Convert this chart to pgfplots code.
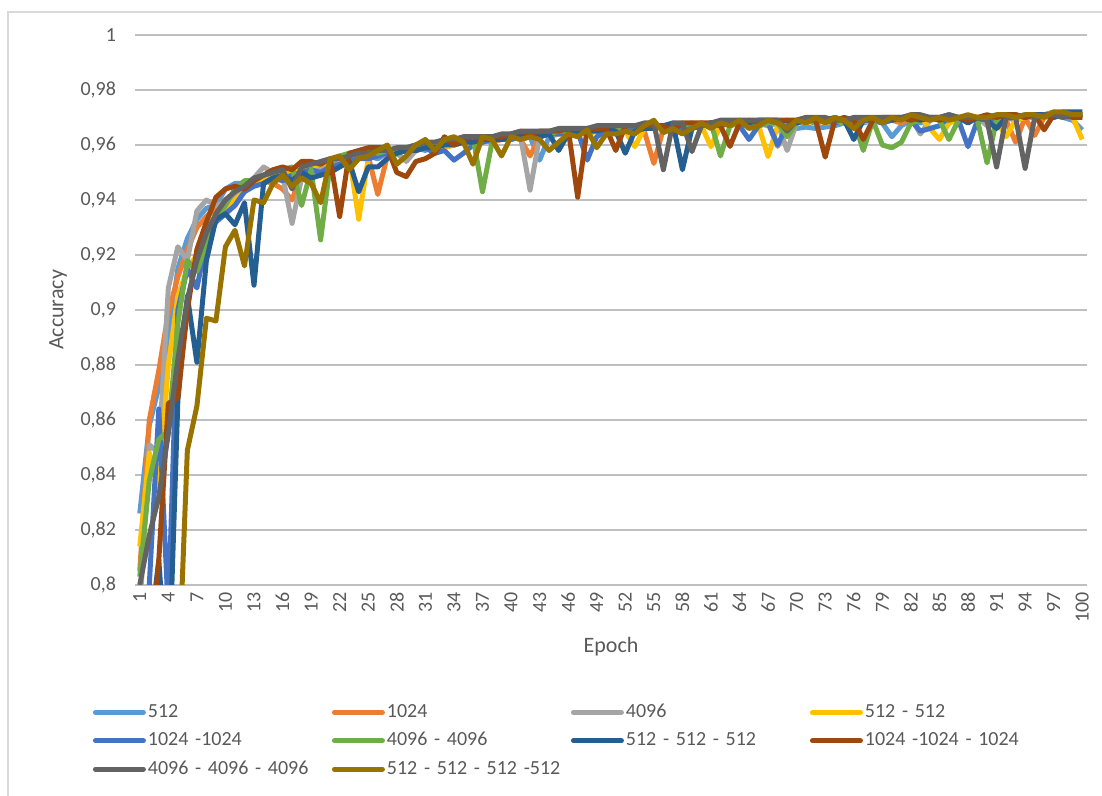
\documentclass[border=0pt]{standalone}
\usepackage{pgfplots}
\pgfplotsset{compat=1.18}
\usepackage{fontspec}
\setmainfont{Carlito}
\definecolor{cA}{HTML}{5B9BD5}
\definecolor{cB}{HTML}{ED7D31}
\definecolor{cC}{HTML}{A5A5A5}
\definecolor{cD}{HTML}{FFC000}
\definecolor{cE}{HTML}{4472C4}
\definecolor{cF}{HTML}{70AD47}
\definecolor{cG}{HTML}{255E91}
\definecolor{cH}{HTML}{9E480E}
\definecolor{cI}{HTML}{636363}
\definecolor{cJ}{HTML}{997300}
\definecolor{txt}{HTML}{595959}
\definecolor{grid}{HTML}{D9D9D9}
\begin{document}
\begin{tikzpicture}
\useasboundingbox (0,0) rectangle (551pt,398pt);
\draw[grid, line width=0.75pt] (4pt,0pt) -- (4pt,392pt) -- (551pt,392pt);
\begin{axis}[
  at={(67.5pt,105.5pt)}, anchor=south west,
  scale only axis, width=476pt, height=275pt,
  xmin=0.5, xmax=100.5, ymin=0.8, ymax=1,
  xtick={1,4,...,100},
  ytick={0.8,0.82,...,1.001},
  /pgf/number format/assume math mode=true,
  yticklabel style={/pgf/number format/fixed, /pgf/number format/precision=2, /pgf/number format/use comma, xshift=-6pt},
  xmajorgrids=false, ymajorgrids=true, grid style={grid, line width=0.75pt},
  axis line style={draw=none}, tick style={draw=none},
  tick label style={font=\fontsize{10}{12}\selectfont, text=txt},
  xticklabel style={rotate=90, anchor=east},
  xlabel={Epoch}, ylabel={Accuracy},
  label style={font=\fontsize{11}{13}\selectfont, text=txt},
  xlabel style={at={(axis description cs:0.5,-0.1127)}, anchor=center},
  ylabel style={at={(axis description cs:-0.0809,0.5)}, anchor=center},
  every axis plot/.append style={line width=2.5pt, line join=round, mark=none},
  legend columns=4,
  legend cell align=left,
  legend image code/.code={\draw[#1, line cap=round] (0pt,0pt) -- (24pt,0pt);},
  legend style={at={(axis description cs:-0.0446,-0.2051)}, anchor=north west,
    draw=none, fill=none, inner sep=0pt, font=\fontsize{10}{12}\selectfont, text=txt,
    nodes={inner xsep=1pt, inner ysep=2.6pt, text height=7pt, text depth=2pt},
    /tikz/every even column/.append style={text width=91pt}},
]
\addplot[cA] table[x expr=\coordindex+1, y index=0, header=false, row sep=\\] {
0.826\\0.858\\0.872\\0.889\\0.915\\0.926\\0.933\\0.937\\0.938\\0.944\\
0.946\\0.946\\0.947\\0.948\\0.949\\0.950\\0.950\\0.951\\0.952\\0.951\\
0.953\\0.954\\0.955\\0.955\\0.956\\0.955\\0.957\\0.958\\0.958\\0.959\\
0.958\\0.960\\0.960\\0.961\\0.961\\0.962\\0.961\\0.962\\0.963\\0.963\\
0.962\\0.963\\0.9545\\0.963\\0.964\\0.965\\0.964\\0.965\\0.966\\0.965\\
0.966\\0.966\\0.965\\0.966\\0.967\\0.966\\0.967\\0.966\\0.967\\0.968\\
0.967\\0.968\\0.967\\0.968\\0.967\\0.968\\0.967\\0.968\\0.967\\0.966\\
0.9665\\0.966\\0.9665\\0.967\\0.968\\0.969\\0.968\\0.969\\0.968\\0.963\\
0.967\\0.969\\0.968\\0.969\\0.970\\0.969\\0.970\\0.969\\0.970\\0.969\\
0.967\\0.970\\0.969\\0.970\\0.971\\0.970\\0.971\\0.970\\0.969\\0.9655\\};
\addlegendentry{512}
\addplot[cB] table[x expr=\coordindex+1, y index=0, header=false, row sep=\\] {
0.805\\0.860\\0.878\\0.899\\0.912\\0.922\\0.930\\0.934\\0.937\\0.940\\
0.943\\0.945\\0.946\\0.947\\0.946\\0.944\\0.940\\0.950\\0.951\\0.952\\
0.953\\0.954\\0.955\\0.955\\0.956\\0.942\\0.956\\0.957\\0.958\\0.958\\
0.959\\0.958\\0.960\\0.960\\0.961\\0.961\\0.962\\0.961\\0.962\\0.963\\
0.962\\0.956\\0.963\\0.964\\0.964\\0.965\\0.964\\0.965\\0.965\\0.966\\
0.965\\0.966\\0.966\\0.965\\0.9533\\0.966\\0.967\\0.966\\0.967\\0.967\\
0.968\\0.967\\0.968\\0.967\\0.968\\0.967\\0.968\\0.9595\\0.967\\0.968\\
0.969\\0.968\\0.969\\0.968\\0.969\\0.968\\0.969\\0.969\\0.970\\0.969\\
0.968\\0.970\\0.969\\0.970\\0.969\\0.970\\0.969\\0.970\\0.970\\0.969\\
0.970\\0.969\\0.961\\0.970\\0.9635\\0.970\\0.971\\0.970\\0.971\\0.970\\};
\addlegendentry{1024}
\addplot[cC] table[x expr=\coordindex+1, y index=0, header=false, row sep=\\] {
0.790\\0.851\\0.848\\0.908\\0.923\\0.918\\0.936\\0.940\\0.938\\0.939\\
0.942\\0.945\\0.948\\0.952\\0.950\\0.949\\0.9315\\0.948\\0.950\\0.951\\
0.953\\0.954\\0.955\\0.955\\0.956\\0.957\\0.956\\0.957\\0.954\\0.958\\
0.959\\0.959\\0.960\\0.960\\0.961\\0.961\\0.962\\0.962\\0.963\\0.962\\
0.963\\0.9436\\0.963\\0.964\\0.964\\0.964\\0.965\\0.965\\0.965\\0.966\\
0.966\\0.966\\0.966\\0.967\\0.966\\0.967\\0.967\\0.966\\0.967\\0.968\\
0.967\\0.968\\0.968\\0.967\\0.968\\0.968\\0.967\\0.968\\0.958\\0.968\\
0.969\\0.968\\0.969\\0.969\\0.968\\0.969\\0.969\\0.970\\0.969\\0.970\\
0.969\\0.970\\0.964\\0.969\\0.970\\0.970\\0.969\\0.970\\0.970\\0.967\\
0.970\\0.970\\0.971\\0.970\\0.970\\0.971\\0.971\\0.970\\0.971\\0.971\\};
\addlegendentry{4096}
\addplot[cD] table[x expr=\coordindex+1, y index=0, header=false, row sep=\\] {
0.814\\0.848\\0.835\\0.880\\0.905\\0.915\\0.920\\0.928\\0.933\\0.936\\
0.940\\0.943\\0.946\\0.948\\0.949\\0.950\\0.951\\0.950\\0.952\\0.953\\
0.954\\0.955\\0.956\\0.933\\0.955\\0.957\\0.957\\0.958\\0.958\\0.959\\
0.959\\0.960\\0.959\\0.960\\0.961\\0.961\\0.962\\0.962\\0.962\\0.963\\
0.963\\0.963\\0.964\\0.964\\0.964\\0.965\\0.965\\0.964\\0.965\\0.966\\
0.966\\0.965\\0.9594\\0.966\\0.967\\0.966\\0.967\\0.967\\0.966\\0.967\\
0.9594\\0.967\\0.968\\0.967\\0.968\\0.967\\0.9558\\0.967\\0.968\\0.969\\
0.968\\0.969\\0.968\\0.969\\0.968\\0.969\\0.969\\0.968\\0.969\\0.969\\
0.970\\0.969\\0.970\\0.966\\0.962\\0.968\\0.969\\0.970\\0.969\\0.970\\
0.969\\0.963\\0.969\\0.970\\0.971\\0.970\\0.971\\0.971\\0.970\\0.962\\};
\addlegendentry{512 - 512}
\addplot[cE] table[x expr=\coordindex+1, y index=0, header=false, row sep=\\] {
0.780\\0.800\\0.864\\0.790\\0.900\\0.915\\0.908\\0.925\\0.932\\0.935\\
0.938\\0.943\\0.945\\0.946\\0.948\\0.947\\0.949\\0.950\\0.951\\0.950\\
0.952\\0.953\\0.954\\0.955\\0.955\\0.956\\0.957\\0.957\\0.958\\0.958\\
0.959\\0.957\\0.958\\0.9545\\0.957\\0.960\\0.961\\0.962\\0.962\\0.962\\
0.963\\0.963\\0.963\\0.964\\0.964\\0.964\\0.965\\0.9545\\0.963\\0.965\\
0.966\\0.965\\0.966\\0.966\\0.967\\0.966\\0.967\\0.966\\0.967\\0.967\\
0.968\\0.967\\0.968\\0.967\\0.962\\0.967\\0.968\\0.960\\0.967\\0.968\\
0.969\\0.968\\0.969\\0.968\\0.969\\0.968\\0.969\\0.969\\0.968\\0.969\\
0.970\\0.969\\0.965\\0.966\\0.967\\0.970\\0.969\\0.9594\\0.969\\0.970\\
0.969\\0.970\\0.970\\0.971\\0.970\\0.971\\0.970\\0.971\\0.971\\0.970\\};
\addlegendentry{1024 -1024}
\addplot[cF] table[x expr=\coordindex+1, y index=0, header=false, row sep=\\] {
0.803\\0.838\\0.853\\0.856\\0.895\\0.918\\0.914\\0.924\\0.933\\0.938\\
0.944\\0.947\\0.947\\0.949\\0.950\\0.951\\0.952\\0.938\\0.951\\0.9255\\
0.953\\0.956\\0.957\\0.957\\0.958\\0.957\\0.958\\0.958\\0.959\\0.960\\
0.960\\0.961\\0.961\\0.962\\0.962\\0.963\\0.943\\0.961\\0.963\\0.963\\
0.964\\0.964\\0.964\\0.964\\0.965\\0.965\\0.965\\0.966\\0.966\\0.966\\
0.966\\0.967\\0.967\\0.966\\0.967\\0.967\\0.967\\0.967\\0.968\\0.967\\
0.968\\0.956\\0.967\\0.968\\0.968\\0.967\\0.968\\0.968\\0.963\\0.968\\
0.969\\0.968\\0.969\\0.969\\0.968\\0.969\\0.958\\0.969\\0.960\\0.959\\
0.961\\0.968\\0.969\\0.970\\0.969\\0.962\\0.969\\0.970\\0.969\\0.9535\\
0.969\\0.970\\0.970\\0.971\\0.970\\0.971\\0.972\\0.971\\0.971\\0.970\\};
\addlegendentry{4096 - 4096}
\addplot[cG] table[x expr=\coordindex+1, y index=0, header=false, row sep=\\] {
0.770\\0.780\\0.809\\0.760\\0.867\\0.905\\0.881\\0.918\\0.933\\0.935\\
0.931\\0.939\\0.909\\0.946\\0.948\\0.949\\0.947\\0.950\\0.948\\0.949\\
0.950\\0.952\\0.954\\0.943\\0.952\\0.952\\0.955\\0.957\\0.958\\0.958\\
0.959\\0.959\\0.960\\0.960\\0.961\\0.961\\0.962\\0.962\\0.962\\0.963\\
0.963\\0.964\\0.963\\0.964\\0.958\\0.964\\0.965\\0.965\\0.965\\0.966\\
0.965\\0.957\\0.965\\0.966\\0.966\\0.967\\0.968\\0.951\\0.966\\0.967\\
0.968\\0.968\\0.968\\0.969\\0.968\\0.969\\0.969\\0.968\\0.969\\0.968\\
0.969\\0.969\\0.969\\0.970\\0.969\\0.962\\0.969\\0.969\\0.970\\0.969\\
0.970\\0.970\\0.969\\0.970\\0.970\\0.971\\0.970\\0.968\\0.970\\0.969\\
0.966\\0.970\\0.971\\0.970\\0.971\\0.971\\0.970\\0.972\\0.972\\0.972\\};
\addlegendentry{512 - 512 - 512}
\addplot[cH] table[x expr=\coordindex+1, y index=0, header=false, row sep=\\] {
0.760\\0.770\\0.809\\0.866\\0.868\\0.900\\0.922\\0.932\\0.941\\0.944\\
0.945\\0.944\\0.947\\0.949\\0.951\\0.952\\0.951\\0.954\\0.954\\0.953\\
0.955\\0.934\\0.957\\0.958\\0.959\\0.959\\0.959\\0.950\\0.9485\\0.954\\
0.955\\0.957\\0.963\\0.960\\0.962\\0.963\\0.962\\0.963\\0.963\\0.964\\
0.965\\0.964\\0.965\\0.965\\0.965\\0.966\\0.941\\0.966\\0.966\\0.966\\
0.958\\0.967\\0.967\\0.967\\0.967\\0.967\\0.965\\0.968\\0.968\\0.968\\
0.968\\0.967\\0.9595\\0.968\\0.969\\0.968\\0.969\\0.969\\0.969\\0.969\\
0.970\\0.969\\0.9556\\0.969\\0.970\\0.969\\0.962\\0.969\\0.970\\0.970\\
0.970\\0.969\\0.970\\0.970\\0.969\\0.970\\0.970\\0.969\\0.970\\0.971\\
0.970\\0.971\\0.971\\0.970\\0.971\\0.9655\\0.971\\0.971\\0.970\\0.970\\};
\addlegendentry{1024 -1024 - 1024}
\addplot[cI] table[x expr=\coordindex+1, y index=0, header=false, row sep=\\] {
0.800\\0.818\\0.832\\0.855\\0.882\\0.904\\0.918\\0.928\\0.935\\0.940\\
0.943\\0.945\\0.948\\0.949\\0.950\\0.951\\0.944\\0.952\\0.953\\0.954\\
0.955\\0.955\\0.956\\0.957\\0.957\\0.958\\0.958\\0.959\\0.959\\0.960\\
0.961\\0.961\\0.962\\0.962\\0.963\\0.963\\0.963\\0.963\\0.964\\0.964\\
0.965\\0.965\\0.965\\0.965\\0.966\\0.966\\0.966\\0.966\\0.967\\0.967\\
0.967\\0.967\\0.967\\0.968\\0.968\\0.951\\0.968\\0.968\\0.9576\\0.967\\
0.968\\0.969\\0.969\\0.969\\0.969\\0.969\\0.969\\0.969\\0.965\\0.969\\
0.970\\0.970\\0.970\\0.969\\0.969\\0.970\\0.970\\0.970\\0.970\\0.970\\
0.970\\0.971\\0.971\\0.970\\0.970\\0.971\\0.970\\0.970\\0.970\\0.969\\
0.952\\0.970\\0.970\\0.9515\\0.970\\0.971\\0.971\\0.970\\0.971\\0.971\\};
\addlegendentry{4096 - 4096 - 4096}
\addplot[cJ] table[x expr=\coordindex+1, y index=0, header=false, row sep=\\] {
0.700\\0.710\\0.720\\0.740\\0.760\\0.849\\0.865\\0.897\\0.896\\0.923\\
0.929\\0.916\\0.940\\0.939\\0.946\\0.949\\0.945\\0.948\\0.946\\0.939\\
0.955\\0.956\\0.951\\0.955\\0.956\\0.958\\0.960\\0.953\\0.956\\0.960\\
0.962\\0.958\\0.962\\0.963\\0.961\\0.953\\0.963\\0.962\\0.956\\0.963\\
0.962\\0.963\\0.962\\0.958\\0.961\\0.964\\0.963\\0.9655\\0.959\\0.964\\
0.964\\0.965\\0.964\\0.967\\0.969\\0.9645\\0.966\\0.964\\0.966\\0.968\\
0.966\\0.968\\0.967\\0.969\\0.966\\0.967\\0.969\\0.968\\0.966\\0.969\\
0.968\\0.970\\0.968\\0.970\\0.969\\0.966\\0.969\\0.970\\0.968\\0.970\\
0.969\\0.971\\0.970\\0.969\\0.970\\0.969\\0.970\\0.971\\0.970\\0.970\\
0.971\\0.971\\0.970\\0.971\\0.971\\0.970\\0.972\\0.972\\0.971\\0.971\\};
\addlegendentry{512 - 512 - 512 -512}
\end{axis}
\end{tikzpicture}
\end{document}
